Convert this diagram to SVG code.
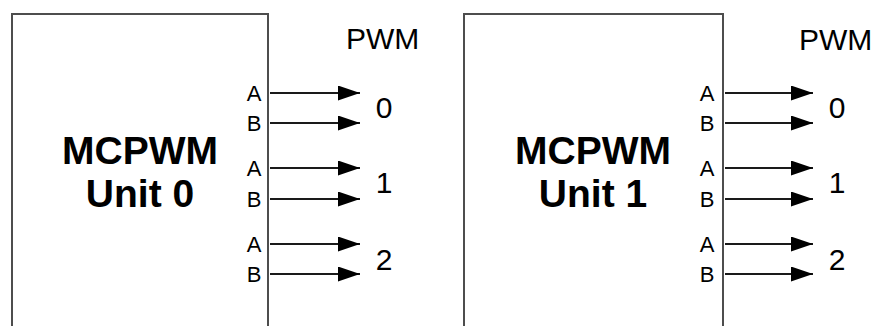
<svg xmlns="http://www.w3.org/2000/svg" width="878" height="326" viewBox="0 0 878 326">
<style>
.box{fill:#fff;stroke:#4d4d4d;stroke-width:2}
.title{font-family:"Liberation Sans",Arial,sans-serif;font-weight:bold;font-size:39px;fill:#000;text-anchor:middle}
.ab{font-family:"Liberation Sans",Arial,sans-serif;font-size:22px;fill:#000;text-anchor:middle}
.num{font-family:"Liberation Sans",Arial,sans-serif;font-size:30px;fill:#000;text-anchor:middle}
.pwm{font-family:"Liberation Sans",Arial,sans-serif;font-size:30px;fill:#000}
.conn line{stroke:#1a1a1a;stroke-width:2;marker-end:url(#ah)}
</style>
<defs>
<marker id="ah" markerUnits="userSpaceOnUse" markerWidth="24" markerHeight="16" refX="22" refY="7.5" orient="auto">
<path d="M0,0 L22,7.5 L0,15 Z" fill="#000"/>
</marker>
</defs>
<rect width="878" height="326" fill="#fff"/>
<g id="unit0">
<rect class="box" x="12" y="14" width="256" height="330"/>
<text class="title" x="140" y="164">MCPWM</text>
<text class="title" x="140" y="207">Unit 0</text>
<text class="ab" x="254" y="101">A</text>
<text class="ab" x="254" y="131">B</text>
<text class="ab" x="254" y="176">A</text>
<text class="ab" x="254" y="207">B</text>
<text class="ab" x="254" y="252">A</text>
<text class="ab" x="254" y="282">B</text>
</g>
<g id="pwm0">
<text class="pwm" x="346" y="49">PWM</text>
<text class="num" x="384" y="118">0</text>
<text class="num" x="384" y="193">1</text>
<text class="num" x="384" y="270">2</text>
</g>
<g id="unit1">
<rect class="box" x="464" y="14" width="259" height="330"/>
<text class="title" x="593" y="164">MCPWM</text>
<text class="title" x="593" y="207">Unit 1</text>
<text class="ab" x="707" y="101">A</text>
<text class="ab" x="707" y="131">B</text>
<text class="ab" x="707" y="176">A</text>
<text class="ab" x="707" y="207">B</text>
<text class="ab" x="707" y="252">A</text>
<text class="ab" x="707" y="282">B</text>
</g>
<g id="pwm1">
<text class="pwm" x="799" y="50">PWM</text>
<text class="num" x="837" y="118">0</text>
<text class="num" x="837" y="193">1</text>
<text class="num" x="837" y="270">2</text>
</g>
<g id="connectors" class="conn">
<line x1="270" y1="93" x2="360" y2="93"/>
<line x1="270" y1="123" x2="360" y2="123"/>
<line x1="270" y1="168" x2="360" y2="168"/>
<line x1="270" y1="199" x2="360" y2="199"/>
<line x1="270" y1="244" x2="360" y2="244"/>
<line x1="270" y1="274" x2="360" y2="274"/>
<line x1="725" y1="93" x2="813" y2="93"/>
<line x1="725" y1="123" x2="813" y2="123"/>
<line x1="725" y1="168" x2="813" y2="168"/>
<line x1="725" y1="199" x2="813" y2="199"/>
<line x1="725" y1="244" x2="813" y2="244"/>
<line x1="725" y1="274" x2="813" y2="274"/>
</g>
</svg>
